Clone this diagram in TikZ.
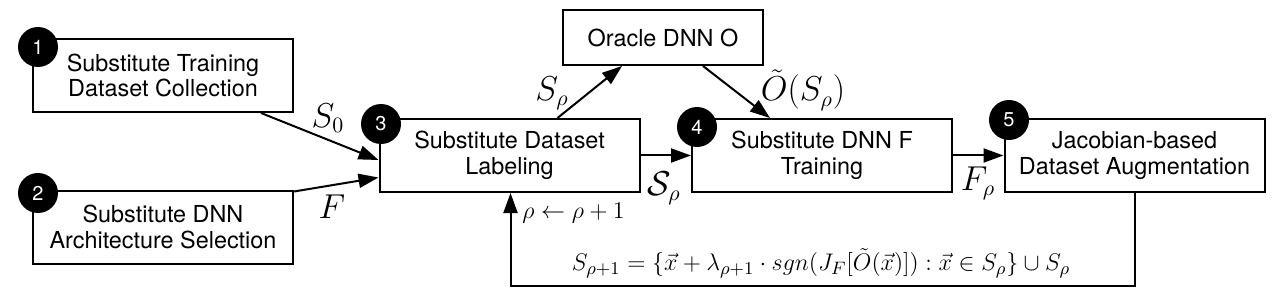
\documentclass[tikz,border=0pt]{standalone}
\usepackage{amsmath,amssymb}
\usepackage{fontspec}
\setmainfont{TeX Gyre Heros}
\usetikzlibrary{positioning,calc,arrows.meta}

\begin{document}
\begin{tikzpicture}[x=0.5pt,y=-0.5pt,
  stage/.style={draw,line width=1pt,minimum width=130pt,minimum height=36.5pt,
    inner sep=0pt,align=center,font=\fontsize{11.7}{12.8}\selectfont},
  badge/.style={circle,fill=black,text=white,minimum size=20pt,inner sep=0pt,
    font=\fontsize{10}{12}\selectfont},
  flow/.style={line width=1pt,-{Triangle[length=10pt,width=7pt]}},
  lbl/.style={inner sep=0pt,font=\fontsize{16}{18}\selectfont}]
  \useasboundingbox (0,0) rectangle (1280,294);
  % stages
  \node[stage] (collect) at (163,75.5) {Substitute Training\\Dataset Collection};
  \node[stage] (arch) at (163,227) {Substitute DNN\\Architecture Selection};
  \node[stage] (label) at (509.5,155.5) {Substitute Dataset\\Labeling};
  \node[stage,minimum width=100pt,minimum height=27.5pt] (oracle) at (663,37.5) {Oracle DNN O};
  \node[stage] (train) at (822,155.5) {Substitute DNN F\\Training};
  \node[stage] (augment) at (1134.5,155.5) {Jacobian-based\\Dataset Augmentation};
  % step numbers
  \node[badge] (n1) at (38,47) {1};
  \node[badge] (n2) at (38,193) {2};
  \node[badge] (n3) at (381,124) {3};
  \node[badge] (n4) at (697,127) {4};
  \node[badge] (n5) at (1009,120) {5};
  % connectors
  \draw[flow] ([xshift=-16.5pt]collect.south east) -- ([yshift=-2.25pt]label.west);
  \draw[flow] ([yshift=-1pt]arch.north east) -- ([yshift=-11pt]label.west);
  \draw[flow] ([xshift=24pt]label.north) -- ([xshift=-20.5pt]oracle.south);
  \draw[flow] ([xshift=20pt]oracle.south) -- ([xshift=-26pt]train.north);
  \draw[flow] (label.east) -- (train.west);
  \draw[flow] (train.east) -- (augment.west);
  \draw[flow] (augment.south) -- ++(0,-46.5pt) -| ([xshift=0.5pt]label.south);
  % labels
  \node[lbl] (s0) at (328,118) {$S_0$};
  \node[lbl] (f) at (332,207) {$F$};
  \node[lbl] (srho) at (552,93) {$S_\rho$};
  \node[lbl] (orho) at (803,90) {$\tilde{O}(S_\rho)$};
  \node[lbl] (calsrho) at (664,188) {$\mathcal{S}_\rho$};
  \node[lbl] (frho) at (978,183) {$F_\rho$};
  \node[inner sep=0pt,anchor=west,font=\fontsize{12.4}{14}\selectfont] (incr) at (522,213) {$\rho \leftarrow \rho+1$};
  \node[inner sep=0pt,font=\fontsize{12.2}{14}\selectfont] (update) at (821,263)
    {$S_{\rho+1} = \{\vec{x} + \lambda_{\rho+1} \cdot sgn(J_F[\tilde{O}(\vec{x})]) : \vec{x} \in S_\rho\} \cup S_\rho$};
\end{tikzpicture}
\end{document}
